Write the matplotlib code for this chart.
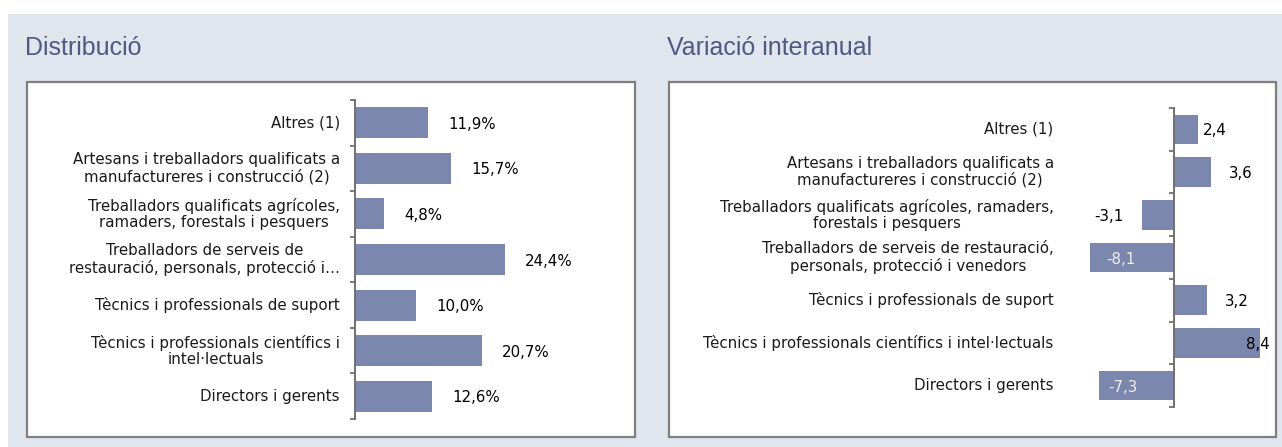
import matplotlib
matplotlib.use('Agg')
import matplotlib.pyplot as plt
import matplotlib.transforms as mtransforms
from matplotlib.patches import Rectangle
import numpy as np

# ---------------- data ----------------
dist_title = "Distribució"
var_title = "Variació interanual"

dist_labels = [
    "Altres (1)",
    "Artesans i treballadors qualificats a\nmanufactureres i construcció (2)",
    "Treballadors qualificats agrícoles,\nramaders, forestals i pesquers",
    "Treballadors de serveis de\nrestauració, personals, protecció i…",
    "Tècnics i professionals de suport",
    "Tècnics i professionals científics i\nintel·lectuals",
    "Directors i gerents",
]
dist_values = [11.9, 15.7, 4.8, 24.4, 10.0, 20.7, 12.6]

var_labels = [
    "Altres (1)",
    "Artesans i treballadors qualificats a\nmanufactureres i construcció (2)",
    "Treballadors qualificats agrícoles, ramaders,\nforestals i pesquers",
    "Treballadors de serveis de restauració,\npersonals, protecció i venedors",
    "Tècnics i professionals de suport",
    "Tècnics i professionals científics i intel·lectuals",
    "Directors i gerents",
]
var_values = [2.4, 3.6, -3.1, -8.1, 3.2, 8.4, -7.3]

# ---------------- style / layout ----------------
W, H = 1282, 447
BG = '#E1E5EE'
BAR = '#7B87AD'
TITLE_C = '#4F5A83'
AXIS_C = '#707070'
FS = 10.8
FAM = ['DejaVu Sans']

fig = plt.figure(figsize=(W / 100, H / 100), dpi=100)
fig.patch.set_facecolor('white')


def rect_px(x0, y0, x1, y1):
    return [x0 / W, 1 - y1 / H, (x1 - x0) / W, (y1 - y0) / H]


fig.patches.append(Rectangle((8 / W, 0), 1 - 8 / W, 1 - 14 / H, transform=fig.transFigure,
                             facecolor=BG, edgecolor='none', zorder=-10))
for (x0, y0, x1, y1) in [(27, 82, 635, 437), (669, 82, 1276, 437)]:
    fig.patches.append(Rectangle((x0 / W, 1 - y1 / H), (x1 - x0) / W, (y1 - y0) / H,
                                 transform=fig.transFigure, facecolor='white',
                                 edgecolor='#7F7F7F', linewidth=1.6, zorder=-5))

fig.text(25 / W, 1 - 55 / H, dist_title, fontsize=18, color=TITLE_C,
         family=['Liberation Sans', 'DejaVu Sans'], va='baseline', ha='left')
fig.text(667 / W, 1 - 55 / H, var_title, fontsize=18, color=TITLE_C,
         family=['Liberation Sans', 'DejaVu Sans'], va='baseline', ha='left')


def style_axis(ax, n):
    ax.patch.set_alpha(0)
    for s in ['top', 'right', 'bottom']:
        ax.spines[s].set_visible(False)
    ax.spines['left'].set_color(AXIS_C)
    ax.spines['left'].set_linewidth(1.4)
    ax.set_xticks([])
    ax.set_yticks(np.arange(-0.5, n, 1.0))
    ax.set_yticklabels([])
    ax.tick_params(axis='y', direction='out', length=3.5, width=1.3, color=AXIS_C)
    ax.set_ylim(n - 0.5, -0.5)


# ---- left chart: distribution ----
n = len(dist_values)
axL = fig.add_axes(rect_px(355, 100, 355 + 6.13 * 40, 419))
axL.set_xlim(0, 40)
style_axis(axL, n)
axL.barh(np.arange(n), dist_values, height=0.68, color=BAR, zorder=2)
tlab = mtransforms.offset_copy(axL.get_yaxis_transform(), fig=fig, x=-15, units='dots')
for i, lab in enumerate(dist_labels):
    axL.text(0, i, lab, transform=tlab, ha='right', va='center', multialignment='center',
             fontsize=FS, family=FAM, linespacing=1.1, color='#1a1a1a')
tval = mtransforms.offset_copy(axL.transData, fig=fig, x=20, y=-1.5, units='dots')
for i, v in enumerate(dist_values):
    axL.text(v, i, f"{v:.1f}%".replace('.', ','), transform=tval, ha='left', va='center',
             fontsize=FS, family=FAM, color='black')

# ---- right chart: year-on-year variation ----
n = len(var_values)
axR = fig.add_axes(rect_px(1173.7 - 103, 108, 1173.7 + 103, 407))
axR.set_xlim(-10, 10)
style_axis(axR, n)
axR.spines['left'].set_position(('data', 0))
axR.barh(np.arange(n), var_values, height=0.69, color=BAR, zorder=2)
tlab = mtransforms.offset_copy(axR.transData, fig=fig, x=-120, units='dots')
for i, lab in enumerate(var_labels):
    axR.text(0, i, lab, transform=tlab, ha='right', va='center', multialignment='center',
             fontsize=FS, family=FAM, linespacing=1.1, color='#1a1a1a')
# label placement (offset px, alignment, colour) as drawn in the source chart
var_label_style = [(4, 'left', 'black'), (18, 'left', 'black'), (-18, 'right', 'black'),
                   (16, 'left', '#EEEEEE'), (18, 'left', 'black'), (-14, 'left', 'black'),
                   (10, 'left', '#EEEEEE')]
for i, v in enumerate(var_values):
    dx, ha, col = var_label_style[i]
    t = mtransforms.offset_copy(axR.transData, fig=fig, x=dx, y=-1.5, units='dots')
    axR.text(v, i, f"{v:.1f}".replace('.', ','), transform=t, ha=ha, va='center',
             fontsize=FS, family=FAM, color=col, zorder=3)

fig.savefig('out.png', dpi=100, facecolor=fig.get_facecolor())
